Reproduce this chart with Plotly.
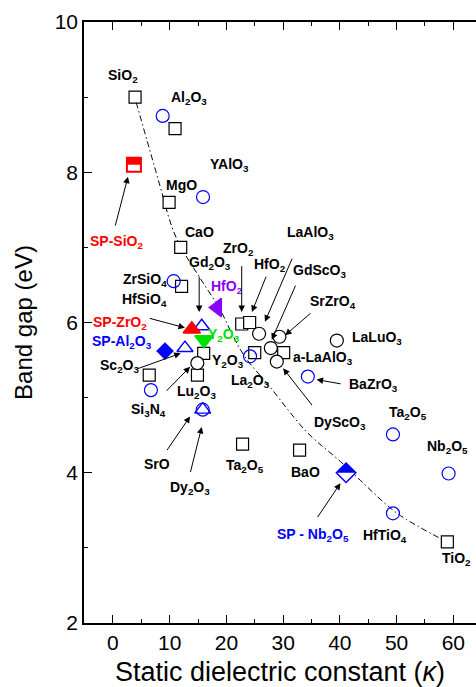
import plotly.graph_objects as go

# ---------------- data ----------------
# open black squares
sq_k = [3.9, 10.95, 9.9, 11.95, 12.1, 22.7, 24.1, 16.0, 6.4, 14.9, 25.0, 30.1, 22.85, 32.9, 58.95]
sq_eg = [9.0, 8.58, 7.6, 7.0, 6.48, 5.98, 6.0, 5.59, 5.3, 5.3, 5.6, 5.6, 4.38, 4.30, 3.08]

# open black circles
bc_k = [14.88, 25.76, 29.35, 27.83, 28.89, 39.47]
bc_eg = [5.46, 5.85, 5.81, 5.66, 5.48, 5.76]

# open blue circles
oc_k = [8.77, 15.88, 10.71, 6.7, 15.83, 24.17, 34.36, 49.36, 59.17, 49.36]
oc_eg = [8.75, 7.67, 6.55, 5.10, 4.84, 5.55, 5.28, 4.51, 3.99, 3.46]

# open blue triangles
tri_k = [15.65, 12.7, 15.83]
tri_eg = [5.95, 5.66, 4.84]

# highlighted (SP) materials
sp_sio2 = (3.7, 8.1)
sp_zro2 = (13.9, 5.91)
sp_y2o3 = (16.06, 5.77)
sp_al2o3 = (9.18, 5.62)
sp_hfo2 = (18.4, 6.20)
sp_nb2o5 = (41.1, 4.0)

# dash-dot guide curve
curve_k = [4.1, 8.29, 10.36, 12.0, 15.37, 18.9, 21.25, 23.3, 27.7, 34.2, 40.1, 43.6, 50.1, 58.4]
curve_eg = [8.93, 7.82, 7.28, 7.0, 6.59, 6.17, 5.81, 5.54, 5.14, 4.54, 4.15, 3.90, 3.46, 3.10]

x_ticks = [0, 10, 20, 30, 40, 50, 60]
y_ticks = [2, 4, 6, 8, 10]

# labels: text, k, Eg, colour
labels = [
    ("SiO<sub>2</sub>", 1.76, 9.28, "black"),
    ("Al<sub>2</sub>O<sub>3</sub>", 13.4, 8.99, "black"),
    ("YAlO<sub>3</sub>", 20.6, 8.10, "black"),
    ("MgO", 12.0, 7.83, "black"),
    ("CaO", 15.2, 7.20, "black"),
    ("Gd<sub>2</sub>O<sub>3</sub>", 17.1, 6.79, "black"),
    ("ZrSiO<sub>4</sub>", 5.65, 6.57, "black"),
    ("HfSiO<sub>4</sub>", 5.65, 6.30, "black"),
    ("HfO<sub>2</sub>", 20.1, 6.47, "#8B00FF"),
    ("SP-SiO<sub>2</sub>", 0.7, 7.07, "#FF0000"),
    ("SP-ZrO<sub>2</sub>", 1.24, 5.99, "#FF0000"),
    ("SP-Al<sub>2</sub>O<sub>3</sub>", 1.6, 5.74, "#0000FF"),
    ("Sc<sub>2</sub>O<sub>3</sub>", 1.24, 5.42, "black"),
    ("Y<sub>2</sub>O<sub>3</sub>", 19.6, 5.83, "#00E000"),
    ("Y<sub>2</sub>O<sub>3</sub>", 20.3, 5.49, "black"),
    ("Si<sub>3</sub>N<sub>4</sub>", 6.2, 4.84, "black"),
    ("Lu<sub>2</sub>O<sub>3</sub>", 14.8, 5.07, "black"),
    ("La<sub>2</sub>O<sub>3</sub>", 24.2, 5.22, "black"),
    ("SrO", 7.8, 4.12, "black"),
    ("Dy<sub>2</sub>O<sub>3</sub>", 13.6, 3.80, "black"),
    ("Ta<sub>2</sub>O<sub>5</sub>", 23.3, 4.09, "black"),
    ("ZrO<sub>2</sub>", 22.2, 6.98, "black"),
    ("HfO<sub>2</sub>", 27.6, 6.76, "black"),
    ("LaAlO<sub>3</sub>", 34.8, 7.19, "black"),
    ("GdScO<sub>3</sub>", 36.5, 6.69, "black"),
    ("SrZrO<sub>4</sub>", 38.8, 6.27, "black"),
    ("LaLuO<sub>3</sub>", 46.6, 5.79, "black"),
    ("a-LaAlO<sub>3</sub>", 37.1, 5.53, "black"),
    ("BaZrO<sub>3</sub>", 45.9, 5.17, "black"),
    ("DyScO<sub>3</sub>", 40.1, 4.66, "black"),
    ("Ta<sub>2</sub>O<sub>5</sub>", 52.1, 4.80, "black"),
    ("Nb<sub>2</sub>O<sub>5</sub>", 58.9, 4.34, "black"),
    ("BaO", 33.9, 4.01, "black"),
    ("SP - Nb<sub>2</sub>O<sub>5</sub>", 35.3, 3.17, "#0000FF"),
    ("HfTiO<sub>4</sub>", 48.0, 3.16, "black"),
    ("TiO<sub>2</sub>", 60.5, 2.85, "black"),
]

# arrows: tail (k, Eg) -> head (k, Eg)
arrows = [
    (0.35, 7.27, 2.65, 7.94),
    (15.2, 6.63, 15.2, 6.14),
    (6.23, 6.06, 12.7, 5.93),
    (4.18, 5.38, 11.95, 5.59),
    (9.18, 5.07, 13.6, 5.41),
    (9.35, 4.28, 13.6, 4.75),
    (13.6, 3.99, 15.65, 4.61),
    (22.7, 6.77, 22.7, 6.14),
    (27.1, 6.63, 24.5, 6.14),
    (31.7, 6.87, 26.8, 6.01),
    (32.3, 6.51, 28.0, 5.77),
    (35.1, 6.14, 30.35, 5.83),
    (40.4, 5.18, 35.9, 5.24),
    (35.3, 4.88, 30.0, 5.39),
    (35.9, 3.39, 40.1, 3.86),
]

# ---------------- figure ----------------
fig = go.Figure()

fig.add_trace(go.Scatter(x=curve_k, y=curve_eg, mode="lines",
                         line=dict(color="black", width=1, dash="6px,3px,1.5px,3px", shape="spline"),
                         hoverinfo="skip"))

fig.add_trace(go.Scatter(x=sq_k, y=sq_eg, mode="markers",
                         marker=dict(symbol="square", size=12, color="white",
                                     line=dict(color="black", width=1.2))))
fig.add_trace(go.Scatter(x=bc_k, y=bc_eg, mode="markers",
                         marker=dict(symbol="circle", size=13, color="white",
                                     line=dict(color="black", width=1.2))))
fig.add_trace(go.Scatter(x=oc_k, y=oc_eg, mode="markers",
                         marker=dict(symbol="circle-open", size=13,
                                     line=dict(color="#0000FF", width=1.2), color="#0000FF")))
fig.add_trace(go.Scatter(x=tri_k, y=tri_eg, mode="markers",
                         marker=dict(symbol="triangle-up-open", size=14, color="#0000FF",
                                     line=dict(color="#0000FF", width=1.4))))

def single(pt, symbol, size, color, fill, lw=1.5):
    fig.add_trace(go.Scatter(x=[pt[0]], y=[pt[1]], mode="markers",
                             marker=dict(symbol=symbol, size=size, color=fill,
                                         line=dict(color=color, width=lw))))

single(sp_sio2, "square", 14, "#FF0000", "white", 2)
single(sp_zro2, "triangle-up", 15, "#FF0000", "#FF0000")
single(sp_y2o3, "triangle-down", 16, "#00E000", "#00E000")
single(sp_al2o3, "diamond", 12, "#0000FF", "#0000FF")
single(sp_hfo2, "triangle-left", 16, "#8B00FF", "#8B00FF")
single(sp_nb2o5, "diamond", 15, "#0000FF", "white", 1.5)

shapes = [
    dict(type="rect", xref="x", yref="y", xsizemode="pixel", ysizemode="pixel",
         xanchor=sp_sio2[0], yanchor=sp_sio2[1], x0=-7, x1=7, y0=0, y1=7,
         fillcolor="#FF0000", line=dict(width=0), layer="above"),
    dict(type="path", xref="x", yref="y", xsizemode="pixel", ysizemode="pixel",
         xanchor=sp_nb2o5[0], yanchor=sp_nb2o5[1], path="M -10 0 L 0 10 L 10 0 Z",
         fillcolor="#0000FF", line=dict(width=0), layer="above"),
]

annotations = []
for t, x, y, c in labels:
    annotations.append(dict(x=x, y=y, xref="x", yref="y", text="<b>" + t + "</b>",
                            showarrow=False, xanchor="center", yanchor="middle",
                            font=dict(family="Liberation Sans, Arial, sans-serif", size=14, color=c)))
for tx, ty, hx, hy in arrows:
    annotations.append(dict(x=hx, y=hy, ax=tx, ay=ty, xref="x", yref="y", axref="x", ayref="y",
                            text="", showarrow=True, arrowhead=2, arrowsize=1.3, arrowwidth=1,
                            arrowcolor="black", standoff=0, startstandoff=0))

axis_font = dict(family="Liberation Sans, Arial, sans-serif", size=21, color="black")

fig.update_layout(
    width=476, height=687,
    margin=dict(l=84, r=0, t=22, b=64),
    paper_bgcolor="white", plot_bgcolor="white",
    showlegend=False,
    shapes=shapes, annotations=annotations,
    xaxis=dict(range=[-5.1, 64.0], tickmode="array", tickvals=x_ticks,
               ticks="inside", ticklen=8, tickwidth=1, tickcolor="black",
               showline=True, linecolor="black", linewidth=1.5, mirror="ticks",
               showgrid=False, zeroline=False, tickfont=axis_font,
               minor=dict(tickvals=[5, 15, 25, 35, 45, 55], ticks="inside", ticklen=4,
                          tickcolor="black", showgrid=False),
               title=dict(text="Static dielectric constant (<i>κ</i>)",
                          font=dict(family="Liberation Sans, Arial, sans-serif", size=27, color="black"),
                          standoff=10)),
    yaxis=dict(range=[2, 10], tickmode="array", tickvals=y_ticks,
               ticks="inside", ticklen=8, tickwidth=1, tickcolor="black",
               showline=True, linecolor="black", linewidth=1.5, mirror=False,
               showgrid=False, zeroline=False, tickfont=axis_font,
               minor=dict(tickvals=[3, 5, 7, 9], ticks="inside", ticklen=4,
                          tickcolor="black", showgrid=False),
               title=dict(text="Band gap (eV)",
                          font=dict(family="Liberation Sans, Arial, sans-serif", size=24, color="black"))),
)

fig.write_html("out.html")
